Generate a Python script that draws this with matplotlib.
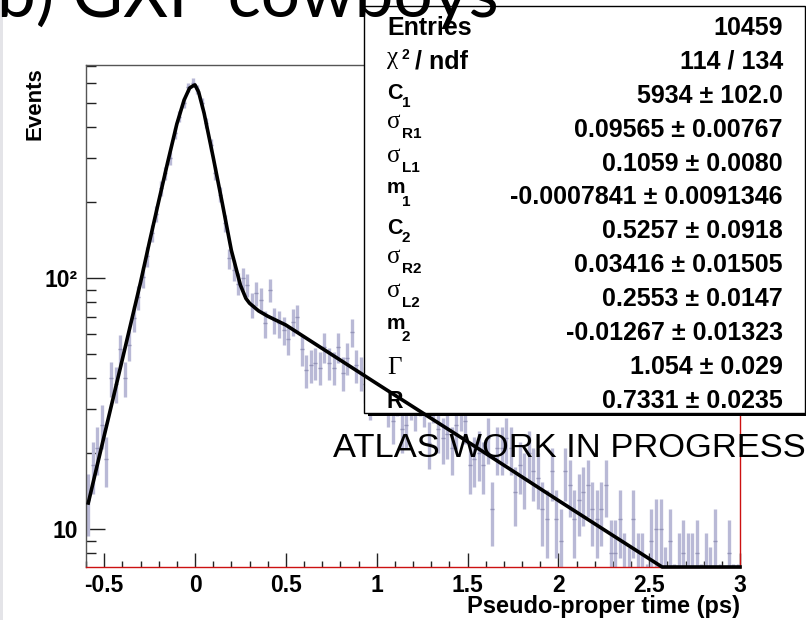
import numpy as np
import matplotlib
matplotlib.use("Agg")
import matplotlib.pyplot as plt
from matplotlib.patches import Rectangle
from matplotlib.ticker import FixedLocator, FixedFormatter, NullFormatter, MultipleLocator

# ---------------- data ----------------
x_range = (-0.6, 3.0)
n_bins = 144
counts = [
    13, 18, 21, 26, 19, 40, 38, 52, 40, 54,
    69, 84, 101, 122, 151, 180, 228, 262, 300, 378,
    440, 500, 575, 600, 565, 500, 415, 340, 262, 215,
    165, 120, 108, 95, 100, 94, 78, 87, 82, 66,
    90, 68, 66, 62, 57, 67, 70, 52, 43, 45,
    46, 44, 53, 46, 44, 53, 42, 48, 61, 45,
    42, 38, 33, 40, 36, 37, 31, 27, 34, 25,
    26, 33, 30, 34, 31, 22, 32, 25, 23, 24,
    21, 26, 30, 27, 18, 19, 20, 18, 23, 12,
    21, 21, 23, 21, 14, 18, 16, 20, 17, 16,
    12, 11, 17, 11, 9, 17, 15, 11, 13, 14,
    15, 12, 11, 12, 15, 8, 8, 11, 7, 6,
    11, 7, 7, 5, 9, 10, 10, 6, 9, 5,
    7, 8, 7, 7, 8, 5, 7, 6, 9, 5,
    4, 8, 5, 5,
]

fit_x = [-0.5875, -0.5, -0.4, -0.3, -0.25, -0.2, -0.15, -0.1, -0.06, -0.03,
         -0.01, 0.0, 0.02, 0.05, 0.1, 0.15, 0.2, 0.25, 0.28, 0.3,
         0.35, 0.4, 0.5, 1.0, 1.5, 2.0, 2.571, 3.0]
fit_y = [12.7, 23.5, 47.4, 96, 140, 202, 290, 411, 512, 571,
         584, 588, 551, 454, 303, 199, 129, 93.7, 83, 79.4,
         74, 70.5, 65, 38, 22.3, 13.0, 7.06, 7.06]

x_ticks = [-0.5, 0, 0.5, 1, 1.5, 2, 2.5, 3]
x_tick_labels = ["-0.5", "0", "0.5", "1", "1.5", "2", "2.5", "3"]
y_ticks = [10, 100]
y_tick_labels = ["10", "10\u00b2"]
y_minor = [8, 9, 20, 30, 40, 50, 60, 70, 80, 90, 200, 300, 400, 500, 600, 700]

stat_labels = [("Entries", "", ""), ("\u03c7", "2", "/ ndf"), ("C", "1", ""),
               ("\u03c3", "R1", ""), ("\u03c3", "L1", ""), ("m", "1", ""),
               ("C", "2", ""), ("\u03c3", "R2", ""), ("\u03c3", "L2", ""),
               ("m", "2", ""), ("\u0393", "", ""), ("R", "", "")]
stat_values = ["10459", "114 / 134", "5934 \u00b1 102.0", "0.09565 \u00b1 0.00767",
               "0.1059 \u00b1 0.0080", "-0.0007841 \u00b1 0.0091346",
               "0.5257 \u00b1 0.0918", "0.03416 \u00b1 0.01505",
               "0.2553 \u00b1 0.0147", "-0.01267 \u00b1 0.01323",
               "1.054 \u00b1 0.029", "0.7331 \u00b1 0.0235"]

title = "b) GXP cowboys"
x_label = "Pseudo-proper time (ps)"
y_label = "Events"
watermark = "ATLAS WORK IN PROGRESS"

# ---------------- figure ----------------
plt.rcParams["font.family"] = ["Liberation Sans", "DejaVu Sans"]
plt.rcParams["font.weight"] = "bold"

W, H = 806, 620
fig = plt.figure(figsize=(W / 100, H / 100), dpi=100)
fig.patch.set_facecolor("white")


def fx(px):
    return px / W


def fy(py):
    return 1 - py / H


fig.patches.append(Rectangle((0, 0), fx(3), 1, transform=fig.transFigure,
                             fc="#e4e4e8", ec="none", zorder=0))

ax = fig.add_axes([fx(86), fy(567), fx(740) - fx(86), fy(65) - fy(567)])
ax.set_yscale("log")

edges = np.linspace(x_range[0], x_range[1], n_bins + 1)
centers = 0.5 * (edges[:-1] + edges[1:])
cnt = np.array(counts, dtype=float)
err = np.sqrt(cnt)

ax.errorbar(centers, cnt, yerr=err, fmt="none", ecolor="#b9b9d6",
            elinewidth=2.4, capsize=0, zorder=2)
ax.plot(centers, cnt, ls="none", marker="_", ms=3.5, mew=1.0,
        color="#9494b8", zorder=2.1)

ax.plot(fit_x, fit_y, color="black", lw=2.6, zorder=4, clip_on=False,
        solid_joinstyle="round")

# stat box (inside axes so the fit line can go over it)
shadow = Rectangle((fx(368), fy(416)), fx(805) - fx(364), fy(6) - fy(413),
                   transform=fig.transFigure, fc="black", ec="none",
                   zorder=2.95, clip_on=False)
box = Rectangle((fx(364), fy(413)), fx(805) - fx(364), fy(6) - fy(413),
                transform=fig.transFigure, fc="white", ec="black", lw=1.0,
                zorder=3, clip_on=False)
ax.add_patch(shadow)
ax.add_patch(box)

ax.set_xlim(*x_range)
ax.set_ylim(7.06, 706)

# spines
for s in ("left", "top"):
    ax.spines[s].set_color("#555555")
    ax.spines[s].set_linewidth(1.0)
for s in ("bottom", "right"):
    ax.spines[s].set_color("#cc1111")
    ax.spines[s].set_linewidth(1.0)

ax.xaxis.set_major_locator(FixedLocator(x_ticks))
ax.xaxis.set_major_formatter(FixedFormatter(x_tick_labels))
ax.xaxis.set_minor_locator(MultipleLocator(0.1))
ax.yaxis.set_major_locator(FixedLocator(y_ticks))
ax.yaxis.set_major_formatter(FixedFormatter(y_tick_labels))
ax.yaxis.set_minor_locator(FixedLocator(y_minor))
ax.yaxis.set_minor_formatter(NullFormatter())

ax.tick_params(axis="x", which="major", direction="in", length=10, width=1,
               color="#222222", top=False, labelsize=16.5, pad=5)
ax.tick_params(axis="x", which="minor", direction="in", length=4.5, width=1,
               color="#222222", top=False)
ax.tick_params(axis="y", which="major", direction="in", length=13.5, width=1,
               color="#222222", right=False, labelsize=16.5, pad=6)
ax.tick_params(axis="y", which="minor", direction="in", length=7, width=1,
               color="#222222", right=False)

# axis titles
fig.text(fx(35), fy(67), y_label, rotation=90, ha="center", va="top",
         fontsize=16, fontweight="bold")
fig.text(fx(740), fy(613), x_label, ha="right", va="baseline",
         fontsize=17, fontweight="bold")

# watermark
fig.text(fx(333), fy(457), watermark, ha="left", va="baseline",
         fontsize=24.8, fontweight="normal", zorder=5)

# stat box text
serif = ["Liberation Serif", "DejaVu Serif"]
main_dy = {"\u03c3": -9, "C": -4, "m": -11, "\u03c7": -5}
sub_dy = {"\u03c3": 1, "C": 4, "m": 1}
main_size = {"C": 15.5, "m": 15, "R": 16.5}
for i, ((main, sub, rest), val) in enumerate(zip(stat_labels, stat_values)):
    base = 35 + 33.9 * i
    greek = main in ("\u03c3", "\u0393", "\u03c7")
    fig.text(fx(387), fy(base + main_dy.get(main, 0)), main,
             ha="left", va="baseline",
             fontsize=18 if greek else main_size.get(main, 18),
             fontweight="normal" if greek else "bold",
             family=serif if greek else ["Liberation Sans", "DejaVu Sans"],
             zorder=7)
    if main == "\u03c7":
        fig.text(fx(401), fy(base - 10), sub, ha="left", va="baseline",
                 fontsize=10, fontweight="bold", zorder=7)
        fig.text(fx(415), fy(base), rest, ha="left", va="baseline",
                 fontsize=18, fontweight="bold", zorder=7)
    elif sub:
        fig.text(fx(402), fy(base + sub_dy.get(main, 0)), sub, ha="left",
                 va="baseline", fontsize=11, fontweight="bold", zorder=7)
    fig.text(fx(783), fy(base), val, ha="right", va="baseline",
             fontsize=18, fontweight="bold", zorder=7)

# title (drawn over the stat box)
fig.text(fx(-3), fy(17), title, ha="left", va="baseline", fontsize=50,
         fontweight="normal", family=["Lato", "DejaVu Sans"], zorder=8)

fig.savefig("out.png", dpi=100)
